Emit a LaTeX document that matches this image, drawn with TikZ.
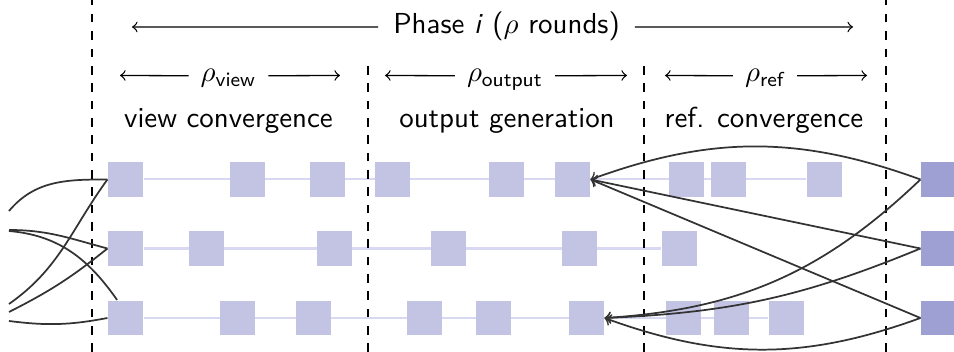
\documentclass[tikz,border=0pt]{standalone}
\usepackage{xcolor}
\usepackage{amsmath}
\usepackage{tikz}
\usetikzlibrary{positioning,arrows,backgrounds}

\definecolor{slotfill}{RGB}{195,196,228}
\definecolor{reffill}{RGB}{158,159,211}
\definecolor{rowdraw}{RGB}{216,216,242}

\begin{document}
\begin{tikzpicture}[
    x=0.346pt, y=0.346pt,
    slot/.style={rectangle, fill=slotfill, inner sep=0pt, minimum size=12.1pt},
    refslot/.style={slot, fill=reffill},
    rowline/.style={draw=rowdraw, line width=0.7pt},
    link/.style={draw=black!80, line width=0.6pt},
    flow/.style={->, >=to, draw=black!80, line width=0.6pt},
    span/.style={->, >=to, draw=black, line width=0.45pt},
    phaseline/.style={draw=black, dashed, line width=0.6pt},
    lbl/.style={font=\sffamily, anchor=base, inner xsep=4pt}
    ]
        \useasboundingbox (0,0) rectangle (954,352);

        %Phase borders
        \draw[phaseline] (92,0) -- (92,352);
        \draw[phaseline] (368,0) -- (368,294);
        \draw[phaseline] (644,0) -- (644,294);
        \draw[phaseline] (886,0) -- (886,352);

        %Labels
        \node[lbl, inner xsep=5pt]
            (tphase)    at (506.5,318.7)    {Phase \textit{i} ($\rho$ rounds)};
        \node[lbl]
            (tview)     at (228.5,270)      {$\rho_{\textsf{view}}$};
        \node[lbl]
            (toutput)   at (505,270)        {$\rho_{\textsf{output}}$};
        \node[lbl]
            (tref)      at (765,270)        {$\rho_{\textsf{ref}}$};
        \node[lbl]
            (lview)     at (228.5,224)      {view convergence};
        \node[lbl]
            (loutput)   at (507,224)        {output generation};
        \node[lbl]
            (lref)      at (764,224)        {ref. convergence};

        \coordinate (phL) at (132,325);
        \coordinate (phR) at (853,325);
        \coordinate (viewL) at (120,276.5);
        \coordinate (viewR) at (340,276.5);
        \coordinate (outL) at (385,276.5);
        \coordinate (outR) at (627,276.5);
        \coordinate (refL) at (665,276.5);
        \coordinate (refR) at (867,276.5);

        \draw[span] (tphase.mid west) -- (phL);
        \draw[span] (tphase.mid east) -- (phR);
        \draw[span] (tview.mid west) -- (viewL);
        \draw[span] (tview.mid east) -- (viewR);
        \draw[span] (toutput.mid west) -- (outL);
        \draw[span] (toutput.mid east) -- (outR);
        \draw[span] (tref.mid west) -- (refL);
        \draw[span] (tref.mid east) -- (refR);

        %Slots, row 1
        \node[slot] (s11) at (125.5,172.5) {};
        \node[slot] (s12) at (247.5,172.5) {};
        \node[slot] (s13) at (327.5,172.5) {};
        \node[slot] (s14) at (392.5,172.5) {};
        \node[slot] (s15) at (506.5,172.5) {};
        \node[slot] (s16) at (572.5,172.5) {};
        \node[slot] (s17) at (686.5,172.5) {};
        \node[slot] (s18) at (728.5,172.5) {};
        \node[slot] (s19) at (824.5,172.5) {};
        %Slots, row 2
        \node[slot] (s21) at (125.5,103.5) {};
        \node[slot] (s22) at (206.5,103.5) {};
        \node[slot] (s23) at (334.5,103.5) {};
        \node[slot] (s24) at (448.5,103.5) {};
        \node[slot] (s25) at (579.5,103.5) {};
        \node[slot] (s26) at (679.5,103.5) {};
        %Slots, row 3
        \node[slot] (s31) at (125.5,34) {};
        \node[slot] (s32) at (237.5,34) {};
        \node[slot] (s33) at (313.5,34) {};
        \node[slot] (s34) at (424.5,34) {};
        \node[slot] (s35) at (493.5,34) {};
        \node[slot] (s36) at (586.5,34) {};
        \node[slot] (s37) at (683.5,34) {};
        \node[slot] (s38) at (731.5,34) {};
        \node[slot] (s39) at (786.5,34) {};
        %Next phase
        \node[refslot] (ref1) at (938.5,172.5) {};
        \node[refslot] (ref2) at (938.5,103.5) {};
        \node[refslot] (ref3) at (938.5,34) {};

        \begin{scope}[on background layer]
            \draw[rowline] (s11) -- (s19);
            \draw[rowline] (s21) -- (s26);
            \draw[rowline] (s31) -- (s39);
        \end{scope}

        %Lines from the previous phase
        \coordinate (in1) at (9,141);
        \coordinate (in2) at (9,122);
        \coordinate (in3) at (9,121);
        \coordinate (in4) at (9,48);
        \coordinate (in5) at (9,40);
        \coordinate (in6) at (9,31);
        \draw[link] (in1) to[out=50, in=180] (s11.west);
        \draw[link] (in2) to[out=0, in=165] (s21.west);
        \draw[link] (in3) to[out=-5, in=125] (s31.115);
        \draw[link] (in4) to[out=35, in=234] (s11.west);
        \draw[link] (in5) to[bend right=6] (s21.west);
        \draw[link] (in6) to[bend right=9] (s31.west);

        %Lines into the output
        \draw[flow] (ref1.west) to[bend right=20] (s16.east);
        \draw[flow] (ref1.west) to[bend left=20] (s36.east);
        \draw[flow] (ref2.west) -- (s16.east);
        \draw[flow] (ref2.west) to[bend left=10] (s36.east);
        \draw[flow] (ref3.west) -- (s16.east);
        \draw[flow] (ref3.west) to[bend left=20] (s36.east);
    \end{tikzpicture}
\end{document}
